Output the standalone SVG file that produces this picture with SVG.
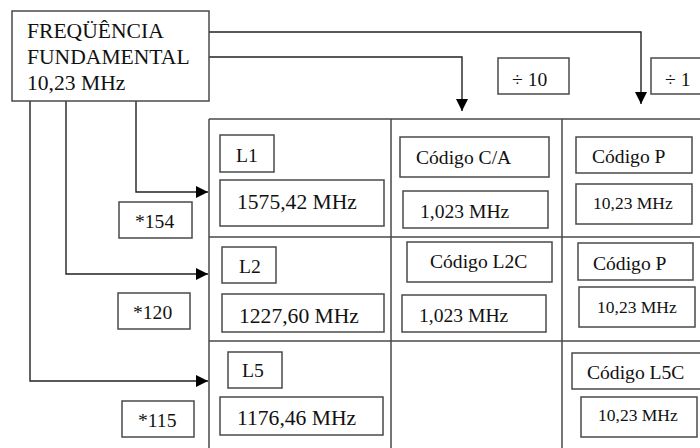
<svg xmlns="http://www.w3.org/2000/svg" width="700" height="448" viewBox="0 0 700 448" font-family="'Liberation Serif', 'Times New Roman', 'DejaVu Serif', serif">
<defs>
<style>
.b{fill:#fff;stroke:#4a4a4a;stroke-width:1.5}
.g{fill:none;stroke:#4a4a4a;stroke-width:1.5}
.c{fill:none;stroke:#222;stroke-width:1.4}
text{fill:#111;font-size:19.6px}
.lg{font-size:21.6px}
.sm{font-size:17.5px}
</style>
<marker id="ah" markerWidth="12" markerHeight="12" refX="12" refY="6" orient="auto" markerUnits="userSpaceOnUse">
<path d="M0,0 L12,6 L0,12 Z" fill="#000"/>
</marker>
</defs>
<rect width="700" height="448" fill="#fff"/>
<g id="grid">
<path class="g" d="M209,119 H700 M209,237 H700 M209,341 H700 M209,119 V448 M391,119 V448 M562,119 V448"/>
</g>
<g id="connectors">
<path class="c" marker-end="url(#ah)" d="M209,32 H641 V104"/>
<path class="c" marker-end="url(#ah)" d="M209,57 H462 V111"/>
<path class="c" marker-end="url(#ah)" d="M136,101 V192 H208"/>
<path class="c" marker-end="url(#ah)" d="M66,101 V274 H208"/>
<path class="c" marker-end="url(#ah)" d="M30,101 V381 H208"/>
</g>
<g id="fundamental">
<rect class="b" x="12" y="11" width="197" height="90"/>
<text class="lg" x="27" y="38">FREQÜÊNCIA</text>
<text class="lg" x="27" y="64">FUNDAMENTAL</text>
<text class="lg" x="27" y="90">10,23 MHz</text>
</g>
<g id="div10">
<rect class="b" x="498" y="58" width="71" height="36"/>
<text x="512" y="86">÷ 10</text>
</g>
<g id="div1">
<rect class="b" x="651" y="58" width="60" height="36"/>
<text x="665" y="86">÷ 1</text>
</g>
<g id="m154">
<rect class="b" x="119" y="202" width="73" height="36"/>
<text x="135" y="228">*154</text>
</g>
<g id="m120">
<rect class="b" x="118" y="293" width="72" height="36"/>
<text x="133" y="319">*120</text>
</g>
<g id="m115">
<rect class="b" x="122" y="401" width="72" height="36"/>
<text x="138" y="427">*115</text>
</g>
<g id="l1">
<rect class="b" x="220" y="135" width="54" height="37"/>
<text x="236" y="162">L1</text>
</g>
<g id="l1f">
<rect class="b" x="220" y="180" width="164" height="46"/>
<text class="lg" x="237" y="209">1575,42 MHz</text>
</g>
<g id="l2">
<rect class="b" x="222" y="247" width="54" height="36"/>
<text x="239" y="273">L2</text>
</g>
<g id="l2f">
<rect class="b" x="222" y="294" width="162" height="38"/>
<text class="lg" x="239" y="323">1227,60 MHz</text>
</g>
<g id="l5">
<rect class="b" x="228" y="352" width="54" height="36"/>
<text x="242" y="377">L5</text>
</g>
<g id="l5f">
<rect class="b" x="220" y="397" width="163" height="38"/>
<text class="lg" x="237" y="425">1176,46 MHz</text>
</g>
<g id="ca">
<rect class="b" x="400" y="137" width="149" height="40"/>
<text x="416" y="164">Código C/A</text>
</g>
<g id="caf">
<rect class="b" x="403" y="191" width="145" height="37"/>
<text x="420" y="218">1,023 MHz</text>
</g>
<g id="l2c">
<rect class="b" x="407" y="242" width="145" height="40"/>
<text x="430" y="268">Código L2C</text>
</g>
<g id="l2cf">
<rect class="b" x="402" y="295" width="144" height="37"/>
<text x="419" y="322">1,023 MHz</text>
</g>
<g id="p1">
<rect class="b" x="576" y="137" width="116" height="36"/>
<text x="592" y="163">Código P</text>
</g>
<g id="p1f">
<rect class="b" x="576" y="184" width="116" height="40"/>
<text class="sm" x="593" y="209">10,23 MHz</text>
</g>
<g id="p2">
<rect class="b" x="578" y="243" width="115" height="37"/>
<text x="593" y="270">Código P</text>
</g>
<g id="p2f">
<rect class="b" x="579" y="287" width="116" height="40"/>
<text class="sm" x="597" y="313">10,23 MHz</text>
</g>
<g id="l5c">
<rect class="b" x="572" y="353" width="140" height="36"/>
<text x="587" y="379">Código L5C</text>
</g>
<g id="l5cf">
<rect class="b" x="581" y="397" width="116" height="40"/>
<text class="sm" x="598" y="421">10,23 MHz</text>
</g>
</svg>
